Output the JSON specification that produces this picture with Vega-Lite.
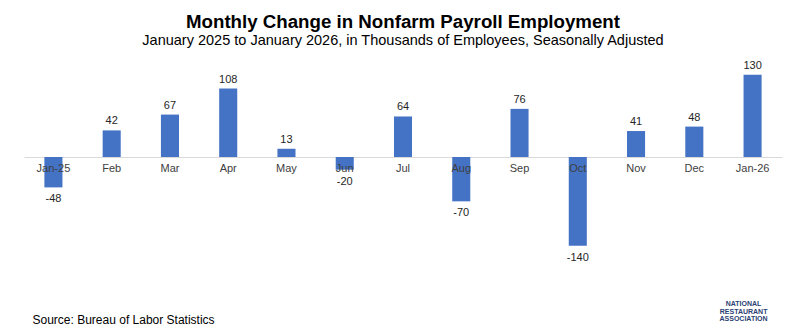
{
  "$schema": "https://vega.github.io/schema/vega-lite/v6.json",
  "autosize": {"type": "none"},
  "width": 758,
  "height": 190,
  "padding": {"left": 24, "top": 62, "right": 17, "bottom": 82},
  "background": "white",
  "config": {"view": {"stroke": null}, "font": "Liberation Sans"},
  "title": {
    "text": "Monthly Change in Nonfarm Payroll Employment",
    "subtitle": "January 2025 to January 2026, in Thousands of Employees, Seasonally Adjusted",
    "anchor": "middle",
    "font": "Liberation Sans",
    "fontSize": 18.7,
    "fontWeight": "bold",
    "color": "#000000",
    "subtitleFont": "Liberation Sans",
    "subtitleFontSize": 14.5,
    "subtitleColor": "#000000",
    "subtitlePadding": 2,
    "offset": 12
  },
  "data": {
    "values": [
      {"month": "Jan-25", "change": -48},
      {"month": "Feb", "change": 42},
      {"month": "Mar", "change": 67},
      {"month": "Apr", "change": 108},
      {"month": "May", "change": 13},
      {"month": "Jun", "change": -20},
      {"month": "Jul", "change": 64},
      {"month": "Aug", "change": -70},
      {"month": "Sep", "change": 76},
      {"month": "Oct", "change": -140},
      {"month": "Nov", "change": 41},
      {"month": "Dec", "change": 48},
      {"month": "Jan-26", "change": 130}
    ]
  },
  "encoding": {
    "x": {
      "field": "month",
      "type": "nominal",
      "sort": ["Jan-25", "Feb", "Mar", "Apr", "May", "Jun", "Jul", "Aug", "Sep", "Oct", "Nov", "Dec", "Jan-26"],
      "scale": {"paddingInner": 0.69, "paddingOuter": 0.35},
      "axis": {
        "labels": false,
        "ticks": false,
        "domain": false,
        "title": "Source: Bureau of Labor Statistics",
        "titleAnchor": "start",
        "titleAlign": "left",
        "titleX": 8,
        "titleY": 62,
        "titleFontSize": 12,
        "titleFontWeight": "normal",
        "titleColor": "#000000"
      }
    },
    "y": {
      "field": "change",
      "type": "quantitative",
      "scale": {"domain": [-150, 150], "nice": false},
      "axis": {
        "values": [0],
        "grid": true,
        "gridColor": "#d9d9d9",
        "labels": false,
        "ticks": false,
        "domain": false,
        "title": null
      }
    }
  },
  "layer": [
    {
      "mark": {"type": "bar", "color": "#4472C4"}
    },
    {
      "mark": {"type": "text", "fontSize": 11, "color": "#404040", "baseline": "middle", "dy": 12},
      "encoding": {
        "text": {"field": "month", "type": "nominal"},
        "y": {"datum": 0, "type": "quantitative"}
      }
    },
    {
      "transform": [{"filter": "datum.change >= 0"}],
      "mark": {"type": "text", "fontSize": 11, "color": "#262626", "baseline": "bottom", "dy": -4},
      "encoding": {
        "text": {"field": "change", "type": "nominal"}
      }
    },
    {
      "transform": [{"filter": "datum.change < 0"}],
      "mark": {"type": "text", "fontSize": 11, "color": "#262626", "baseline": "top", "dy": 6},
      "encoding": {
        "text": {"field": "change", "type": "nominal"}
      }
    },
    {
      "transform": [{"filter": "datum.month == 'Jan-26'"}],
      "mark": {"type": "text", "fontSize": 7, "fontWeight": "bold", "color": "#2b3f73", "align": "center", "baseline": "middle", "lineBreak": "\n", "lineHeight": 7.5, "dx": -9, "dy": 147},
      "encoding": {
        "text": {"value": "NATIONAL\nRESTAURANT\nASSOCIATION"},
        "y": {"datum": 0, "type": "quantitative"}
      }
    }
  ]
}
